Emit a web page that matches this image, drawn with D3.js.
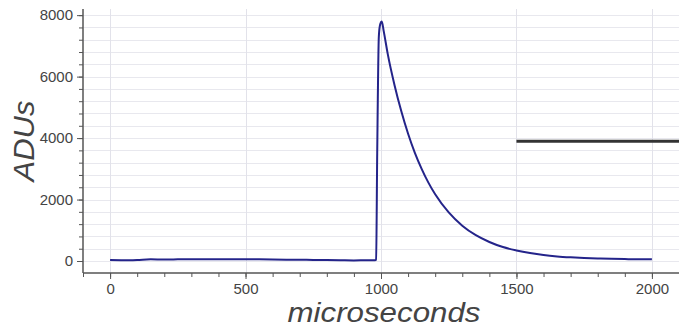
<!DOCTYPE html>
<html>
<head>
<meta charset="utf-8">
<script src="https://cdn.jsdelivr.net/npm/d3@7"></script>
<style>
  body { margin: 0; background: #fff; }
  text { font-family: "Liberation Sans", Helvetica, Arial, sans-serif; }
</style>
</head>
<body>
<div id="chartArea"></div>
<script>
// pulse trace
var times = [0, 50, 100, 150, 200, 250, 300, 350, 400, 450, 500, 550, 600, 650, 700, 750,
    800, 850, 900, 950, 978, 982, 986, 992, 997, 1003, 1010, 1025, 1050, 1075, 1100,
    1125, 1150, 1175, 1200, 1250, 1300, 1350, 1400, 1450, 1500, 1550, 1600, 1650, 1700,
    1750, 1800, 1850, 1900, 1950, 2000];
var adus = [30, 25, 35, 55, 50, 55, 60, 55, 55, 60, 60, 55, 50, 45, 40, 35,
    30, 25, 20, 25, 25, 40, 3500, 7300, 7700, 7790, 7480, 6730, 5720, 4870, 4140,
    3520, 3000, 2550, 2170, 1580, 1150, 840, 620, 455, 345, 260, 195, 150, 120,
    98, 82, 70, 62, 58, 55];

// horizontal threshold line
var levelX = [1500, 2100];
var levelY = 3900;

var xMajor = [0, 500, 1000, 1500, 2000];
var yMajor = [0, 2000, 4000, 6000, 8000];

var W = 679, H = 328;
var margin = {top: 9, right: 0, bottom: 55, left: 83};
var w = W - margin.left - margin.right,
    h = H - margin.top - margin.bottom;

var svg = d3.select('#chartArea').append('svg')
    .attr('width', W)
    .attr('height', H);

var g = svg.append('g')
    .attr('transform', 'translate(' + margin.left + ',' + margin.top + ')');

var xScale = d3.scaleLinear().domain([-100, 2100]).range([0, w]);
var yScale = d3.scaleLinear().domain([-390, 8200]).range([h, 0]);

var xMinor = d3.range(-100, 2101, 100);
var yMinor = d3.range(0, 8201, 400);

// grid
g.append('g').selectAll('line')
    .data(yMinor)
    .enter().append('line')
    .attr('x1', 0).attr('x2', w)
    .attr('y1', function (d) { return Math.round(yScale(d)) + 0.5; })
    .attr('y2', function (d) { return Math.round(yScale(d)) + 0.5; })
    .attr('stroke', '#e8e8ee');

g.append('g').selectAll('line')
    .data(xMajor)
    .enter().append('line')
    .attr('y1', 0).attr('y2', h)
    .attr('x1', function (d) { return Math.round(xScale(d)) + 0.5; })
    .attr('x2', function (d) { return Math.round(xScale(d)) + 0.5; })
    .attr('stroke', '#e2e2ea');

// trace
var line = d3.line()
    .x(function (d, i) { return xScale(times[i]); })
    .y(function (d) { return yScale(d); })
    .curve(d3.curveMonotoneX);

g.append('path')
    .datum(adus)
    .attr('d', line)
    .attr('fill', 'none')
    .attr('stroke', '#24248a')
    .attr('stroke-width', 2);

g.append('line')
    .attr('x1', xScale(levelX[0])).attr('x2', xScale(levelX[1]))
    .attr('y1', yScale(levelY)).attr('y2', yScale(levelY))
    .attr('stroke', '#333')
    .attr('stroke-width', 3);

// axes
var axisColor = '#555';
var fmt = d3.format('d');

var xAxis = g.append('g')
    .attr('transform', 'translate(0,' + h + ')')
    .call(d3.axisBottom(xScale).tickValues(xMajor).tickFormat(fmt).tickSize(6).tickPadding(4));
var xMin = g.append('g')
    .attr('transform', 'translate(0,' + h + ')')
    .call(d3.axisBottom(xScale).tickValues(xMinor).tickSize(4).tickFormat(''));

var yAxis = g.append('g')
    .call(d3.axisLeft(yScale).tickValues(yMajor).tickFormat(fmt).tickSize(6).tickPadding(4));
var yMin = g.append('g')
    .call(d3.axisLeft(yScale).tickValues(yMinor).tickSize(4).tickFormat(''));

[xAxis, xMin, yAxis, yMin].forEach(function (a) {
    a.select('.domain').attr('stroke', axisColor).attr('stroke-width', 1.5);
    a.selectAll('.tick line').attr('stroke', axisColor);
    a.selectAll('.tick text')
        .attr('fill', '#444')
        .style('font-size', '15px');
});
xMin.select('.domain').remove();
yMin.select('.domain').remove();
yAxis.select('.domain').attr('d', 'M0,' + h + 'V0');
xAxis.select('.domain').attr('d', 'M0,0H' + w);

// axis labels
svg.append('text')
    .attr('x', 384)
    .attr('y', 322)
    .attr('text-anchor', 'middle')
    .attr('textLength', 193)
    .attr('lengthAdjust', 'spacingAndGlyphs')
    .style('font-size', '28px')
    .style('font-style', 'italic')
    .attr('fill', '#444')
    .text('microseconds');

svg.append('text')
    .attr('transform', 'translate(34,' + (margin.top + h / 2) + ') rotate(-90)')
    .attr('text-anchor', 'middle')
    .attr('textLength', 81)
    .attr('lengthAdjust', 'spacingAndGlyphs')
    .style('font-size', '29px')
    .style('font-style', 'italic')
    .attr('fill', '#444')
    .text('ADUs');
</script>
</body>
</html>
